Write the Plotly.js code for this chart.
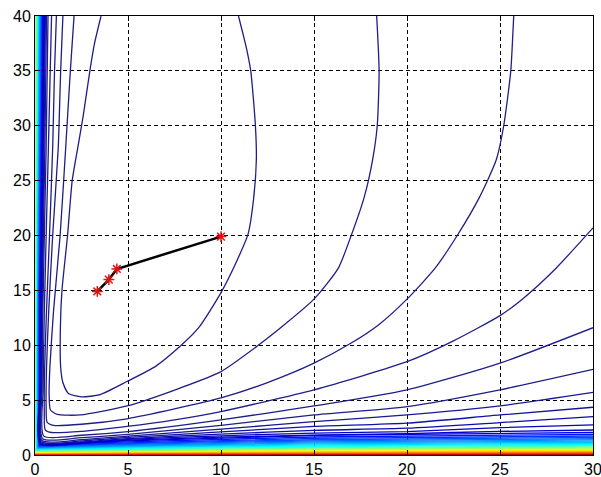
<!DOCTYPE html>
<html><head><meta charset="utf-8">
<script src="https://cdn.plot.ly/plotly-3.0.1.min.js"></script>
<style>html,body{margin:0;padding:0;background:#fff}#chart{width:601px;height:477px}</style>
</head><body><div id="chart"></div>
<script>
// ---- tick values ----
const xTicks = [0, 5, 10, 15, 20, 25, 30];
const yTicks = [0, 5, 10, 15, 20, 25, 30, 35, 40];

// ---- inner contours, traced point by point ----
const c1X = [3.55, 3.2, 2.95, 2.6, 2.3, 2.0, 1.75, 1.45, 1.37, 1.38, 1.5, 1.8, 2.5, 3.5, 4.95, 6.5, 7.8, 8.8, 10.0, 10.8, 11.45, 11.75, 11.9, 11.85, 11.6, 11.39, 11.17, 10.94];
const c1Y = [40, 37.5, 35, 31, 28, 25, 20, 15, 12, 8, 6.6, 5.6, 5.3, 5.5, 6.7, 8.1, 9.9, 11.6, 14.8, 17.5, 20.1, 23.3, 26.9, 30, 35, 36.9, 38.45, 40];

const c2X = [2.1, 1.9, 1.65, 1.35, 1.0, 0.8, 0.76, 0.83, 1.2, 2.44, 4.95, 7.8, 10.0, 11.93, 13.5, 15.0, 16.3, 17.0, 17.7, 18.15, 18.4, 18.5, 18.37];
const c2Y = [40, 35, 28, 20, 13.2, 8, 5.5, 4.1, 3.7, 3.65, 4.47, 6.1, 7.6, 9.9, 12, 14.2, 17, 20.0, 23.5, 26.9, 30, 35, 40];

const c3X = [1.5, 1.38, 1.25, 0.95, 0.74, 0.62, 0.6, 0.65, 1.0, 2.5, 4.95, 7.5, 10.0, 12.5, 15.0, 17.0, 18.5, 20.0, 21.5, 22.7, 23.9, 24.8, 25.2, 25.58, 25.7, 25.74];
const c3Y = [40, 35, 28, 20, 13.2, 8, 4.5, 3.0, 2.7, 2.8, 3.3, 4.2, 5.2, 6.6, 8.37, 10.2, 11.9, 14.2, 17, 20, 23.5, 26.9, 30, 35, 38.7, 40];

const c4X = [1.15, 1.05, 0.95, 0.78, 0.62, 0.52, 0.5, 0.55, 0.9, 2.5, 4.95, 7.5, 10.0, 15.0, 20.0, 22.5, 25.0, 26.2, 28.0, 30.0];
const c4Y = [40, 35, 28, 20, 13.2, 8, 4, 2.3, 2.05, 2.15, 2.6, 3.2, 3.96, 5.94, 8.5, 10.4, 12.7, 14.2, 17, 20.7];

// ---- L-shaped contours: left branch x read at leftY, bottom branch y read at bottomX ----
const leftY = [40, 28, 13, 6];
const bottomX = [2.5, 5, 10, 15, 20, 25, 30];
const c5Left = [0.89, 0.72, 0.50, 0.44];   const c5Corner = [0.47, 1.72]; const c5Bottom = [1.80, 2.13, 3.20, 4.47, 5.94, 8.37, 11.6];
const c6Left = [0.70, 0.60, 0.42, 0.38];   const c6Corner = [0.41, 1.48]; const c6Bottom = [1.58, 1.88, 2.70, 3.65, 4.41, 5.94, 7.8];
const c7Left = [0.62, 0.53, 0.38, 0.35];   const c7Corner = [0.37, 1.32]; const c7Bottom = [1.40, 1.72, 2.35, 3.04, 3.65, 4.47, 5.7];
const c8Left = [0.56, 0.48, 0.35, 0.32];   const c8Corner = [0.34, 1.20]; const c8Bottom = [1.28, 1.60, 2.10, 2.60, 2.90, 3.65, 4.35];
const c9Left = [0.52, 0.44, 0.33, 0.30];   const c9Corner = [0.31, 1.12]; const c9Bottom = [1.20, 1.50, 1.90, 2.25, 2.44, 2.95, 3.5];
const c10Left = [0.49, 0.41, 0.31, 0.28];  const c10Corner = [0.29, 1.06]; const c10Bottom = [1.13, 1.42, 1.75, 2.00, 2.13, 2.50, 2.74];
const c11Left = [0.46, 0.39, 0.29, 0.27];  const c11Corner = [0.28, 1.00]; const c11Bottom = [1.07, 1.35, 1.62, 1.82, 1.95, 2.15, 2.28];

// ---- dense band of high-level contours hugging the axes ----
const bandXTop = [0.44, 0.41, 0.38, 0.35, 0.32, 0.29, 0.26, 0.23, 0.20, 0.17, 0.145, 0.12, 0.10, 0.085, 0.07, 0.06, 0.05, 0.04, 0.032, 0.025, 0.018, 0.012, 0.007, 0.003];
const bandX13 = [0.27, 0.25, 0.23, 0.21, 0.19, 0.175, 0.155, 0.14, 0.12, 0.10, 0.087, 0.072, 0.06, 0.051, 0.042, 0.036, 0.03, 0.024, 0.019, 0.015, 0.011, 0.007, 0.004, 0.002];
const bandYCorner = [0.95, 0.90, 0.85, 0.80, 0.75, 0.70, 0.65, 0.60, 0.55, 0.50, 0.46, 0.42, 0.38, 0.34, 0.30, 0.26, 0.23, 0.20, 0.17, 0.14, 0.10, 0.07, 0.045, 0.02];
const bandY5 = [1.28, 1.20, 1.11, 1.03, 0.96, 0.89, 0.82, 0.76, 0.70, 0.64, 0.58, 0.53, 0.48, 0.43, 0.38, 0.33, 0.29, 0.25, 0.21, 0.17, 0.13, 0.09, 0.055, 0.025];
const bandY15 = [1.78, 1.64, 1.51, 1.39, 1.29, 1.19, 1.10, 1.01, 0.92, 0.84, 0.77, 0.70, 0.63, 0.56, 0.50, 0.44, 0.37, 0.31, 0.26, 0.21, 0.16, 0.11, 0.07, 0.03];
const bandY30 = [2.05, 1.88, 1.73, 1.60, 1.48, 1.37, 1.26, 1.16, 1.06, 0.97, 0.88, 0.80, 0.72, 0.64, 0.57, 0.50, 0.43, 0.36, 0.30, 0.24, 0.18, 0.13, 0.08, 0.035];

// ---- descent path ----
const pathX = [10, 4.4, 3.97, 3.35];
const pathY = [19.9, 16.95, 15.98, 14.9];

// ---- styles ----
const navy = 'rgb(30,30,135)';
const lNavy = ['rgb(30,30,135)', 'rgb(30,30,135)', 'rgb(24,24,148)', 'rgb(18,18,162)', 'rgb(12,12,176)', 'rgb(6,6,190)', 'rgb(0,0,205)'];
const bandColors = ['rgb(0,0,228)','rgb(0,20,255)','rgb(0,50,255)','rgb(0,80,255)','rgb(0,110,255)','rgb(0,140,255)',
  'rgb(0,170,255)','rgb(0,200,255)','rgb(0,225,255)','rgb(0,255,255)','rgb(40,255,215)',
  'rgb(80,255,175)','rgb(120,255,135)','rgb(160,255,95)','rgb(200,255,55)','rgb(240,255,15)',
  'rgb(255,220,0)','rgb(255,180,0)','rgb(255,140,0)','rgb(255,100,0)',
  'rgb(255,60,0)','rgb(230,20,0)','rgb(190,0,0)','rgb(140,0,0)'];

const traces = [];
function addLine(xs, ys, color, width, shape) {
  traces.push({type: 'scatter', mode: 'lines', x: xs, y: ys, hoverinfo: 'skip', showlegend: false,
    line: {color: color, width: width, shape: shape || 'linear', smoothing: 0.6}});
}

// band first (underneath)
for (let j = bandXTop.length - 1; j >= 0; j--) {
  addLine([bandXTop[j], bandX13[j], bandX13[j], 5, 15, 30],
          [40, 13, bandYCorner[j], bandY5[j], bandY15[j], bandY30[j]], bandColors[j], 1.3);
}
const Ls = [[c5Left, c5Corner, c5Bottom], [c6Left, c6Corner, c6Bottom], [c7Left, c7Corner, c7Bottom],
            [c8Left, c8Corner, c8Bottom], [c9Left, c9Corner, c9Bottom], [c10Left, c10Corner, c10Bottom],
            [c11Left, c11Corner, c11Bottom]];
Ls.forEach((c, i) => {
  addLine(c[0].concat([c[1][0]], bottomX), leftY.concat([c[1][1]], c[2]), lNavy[i], 1.3, 'spline');
});
addLine(c4X, c4Y, navy, 1.3, 'spline');
addLine(c3X, c3Y, navy, 1.3, 'spline');
addLine(c2X, c2Y, navy, 1.3, 'spline');
addLine(c1X, c1Y, navy, 1.3, 'spline');

traces.push({type: 'scatter', mode: 'lines+markers', x: pathX, y: pathY, showlegend: false, hoverinfo: 'skip',
  line: {color: '#000', width: 2.5},
  marker: {symbol: 'asterisk-open', size: 9, color: '#e01010', line: {color: '#e01010', width: 1.5}}});

const axisCommon = {
  showline: true, linecolor: '#000', linewidth: 1, mirror: 'ticks',
  ticks: 'inside', ticklen: 5, tickcolor: '#000', tickwidth: 1,
  showgrid: true, gridcolor: '#000', gridwidth: 1, griddash: '4px,3px',
  zeroline: false, ticklabeloverflow: 'allow',
  tickfont: {family: 'Liberation Sans, Arial, sans-serif', size: 16, color: '#000'}
};
const layout = {
  width: 601, height: 477,
  margin: {l: 35, r: 8, t: 16, b: 22, pad: 0},
  paper_bgcolor: '#fff', plot_bgcolor: '#fff',
  showlegend: false,
  xaxis: Object.assign({}, axisCommon, {range: [0, 30], tickvals: xTicks, ticktext: xTicks.map(String)}),
  yaxis: Object.assign({}, axisCommon, {range: [0, 40], tickvals: yTicks, ticktext: yTicks.map(String)})
};
Plotly.newPlot('chart', traces, layout, {staticPlot: true, displayModeBar: false});
</script>
</body></html>
